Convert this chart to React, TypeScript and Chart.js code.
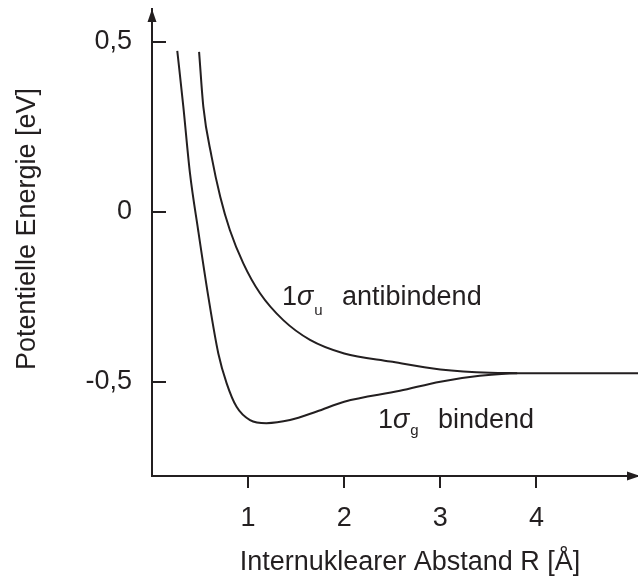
import React, { useEffect, useRef } from "react";
import { Chart, registerables } from "chart.js";

Chart.register(...registerables);

// Potential energy curves of the H2+ molecular ion
const bondingR = [0.263, 0.326, 0.395, 0.48, 0.586, 0.69, 0.777, 0.88, 1.02, 1.19, 1.436, 1.714, 2.0, 2.58, 3.0, 3.41, 3.8, 5.06];
const bondingE = [0.474, 0.31, 0.114, -0.053, -0.249, -0.416, -0.504, -0.573, -0.612, -0.621, -0.612, -0.587, -0.558, -0.526, -0.499, -0.482, -0.474, -0.474];
const antibondingR = [0.49, 0.534, 0.62, 0.71, 0.81, 0.95, 1.124, 1.366, 1.644, 2.0, 2.48, 3.0, 3.52, 3.8];
const antibondingE = [0.471, 0.31, 0.163, 0.045, -0.053, -0.151, -0.239, -0.318, -0.376, -0.416, -0.44, -0.463, -0.473, -0.474];

const xTickValues = [1, 2, 3, 4];
const yTickValues = [-0.5, 0, 0.5];

const X_MIN = 0;
const X_MAX = 5.057;
const Y_MIN = -0.7765;
const Y_MAX = 0.597;

const INK = "#231f20";
const FONT = "'Liberation Sans', Arial, Helvetica, sans-serif";
const FONT_SIZE = 27;

const xTitle = "Internuklearer Abstand R [Å]";
const yTitle = "Potentielle Energie [eV]";

// Orbital labels: position of the leading "1" in data coordinates
const orbitalLabels = [
  { r: 1.353, e: -0.2735, sub: "u", subDy: 10, word: "antibindend" },
  { r: 2.352, e: -0.635, sub: "g", subDy: 7, word: "bindend" },
];

const toPoints = (xs: number[], ys: number[]) => xs.map((x, i) => ({ x, y: ys[i] }));
const formatDe = (v: number) => String(v).replace(".", ",");

const axisDecorations = {
  id: "axisDecorations",
  afterDraw(chart: any) {
    const { ctx, chartArea, scales } = chart;
    const xs = scales.x;
    const ys = scales.y;
    ctx.save();
    ctx.strokeStyle = INK;
    ctx.fillStyle = INK;
    ctx.lineWidth = 2;

    // tick marks: inward on the energy axis, downward on the distance axis
    ys.ticks.forEach((t: any) => {
      const py = Math.round(ys.getPixelForValue(t.value));
      ctx.beginPath();
      ctx.moveTo(chartArea.left, py);
      ctx.lineTo(chartArea.left + 14, py);
      ctx.stroke();
    });
    xs.ticks.forEach((t: any) => {
      const px = Math.round(xs.getPixelForValue(t.value));
      ctx.beginPath();
      ctx.moveTo(px, chartArea.bottom);
      ctx.lineTo(px, chartArea.bottom + 12);
      ctx.stroke();
    });

    // arrow heads
    const ax = chartArea.left;
    const top = chartArea.top;
    ctx.beginPath();
    ctx.moveTo(ax, top);
    ctx.lineTo(ax - 4.5, top + 13);
    ctx.lineTo(ax + 4.5, top + 13);
    ctx.closePath();
    ctx.fill();
    const ay = chartArea.bottom;
    const right = chartArea.right + 2;
    ctx.beginPath();
    ctx.moveTo(right, ay);
    ctx.lineTo(right - 13, ay - 4.5);
    ctx.lineTo(right - 13, ay + 4.5);
    ctx.closePath();
    ctx.fill();

    // axis titles
    ctx.font = `${FONT_SIZE}px ${FONT}`;
    ctx.textAlign = "center";
    ctx.textBaseline = "alphabetic";
    ctx.fillText(xTitle, 410, 570);
    ctx.save();
    ctx.translate(35, 229);
    ctx.rotate(-Math.PI / 2);
    ctx.fillText(yTitle, 0, 0);
    ctx.restore();

    // orbital labels
    ctx.textAlign = "left";
    orbitalLabels.forEach((l) => {
      const x = xs.getPixelForValue(l.r);
      const y = ys.getPixelForValue(l.e);
      ctx.font = `${FONT_SIZE}px ${FONT}`;
      ctx.fillText("1", x, y);
      let cx = x + ctx.measureText("1").width;
      ctx.font = `italic ${FONT_SIZE}px ${FONT}`;
      ctx.fillText("σ", cx, y);
      cx += ctx.measureText("σ").width + 1;
      ctx.font = `15px ${FONT}`;
      ctx.fillText(l.sub, cx, y + l.subDy);
      ctx.font = `${FONT_SIZE}px ${FONT}`;
      ctx.fillText(l.word, x + 60, y);
    });
    ctx.restore();
  },
};

export default function App() {
  const canvasRef = useRef<HTMLCanvasElement | null>(null);

  useEffect(() => {
    if (!canvasRef.current) return;
    const chart = new Chart(canvasRef.current, {
      type: "line",
      data: {
        datasets: [
          {
            label: "1σg bindend",
            data: toPoints(bondingR, bondingE),
            borderColor: INK,
            borderWidth: 2,
            pointRadius: 0,
            cubicInterpolationMode: "monotone",
            fill: false,
          },
          {
            label: "1σu antibindend",
            data: toPoints(antibondingR, antibondingE),
            borderColor: INK,
            borderWidth: 2,
            pointRadius: 0,
            cubicInterpolationMode: "monotone",
            fill: false,
          },
        ],
      },
      options: {
        responsive: false,
        animation: false,
        devicePixelRatio: 1,
        layout: { padding: { left: 0, top: 9, right: 0, bottom: 0 } },
        plugins: { legend: { display: false }, tooltip: { enabled: false } },
        scales: {
          x: {
            type: "linear",
            min: X_MIN,
            max: X_MAX,
            afterBuildTicks: (s: any) => {
              s.ticks = xTickValues.map((v) => ({ value: v }));
            },
            afterFit: (s: any) => {
              s.height = 102;
              s.paddingLeft = 0;
              s.paddingRight = 0;
            },
            grid: { display: false, drawTicks: false },
            border: { display: true, color: INK, width: 2 },
            ticks: {
              color: INK,
              font: { family: FONT, size: FONT_SIZE },
              padding: 26,
              maxRotation: 0,
              callback: (v: any) => formatDe(Number(v)),
            },
          },
          y: {
            type: "linear",
            min: Y_MIN,
            max: Y_MAX,
            afterBuildTicks: (s: any) => {
              s.ticks = yTickValues.map((v) => ({ value: v }));
            },
            afterFit: (s: any) => {
              s.width = 152;
              s.paddingTop = 0;
              s.paddingBottom = 0;
            },
            grid: { display: false, drawTicks: false },
            border: { display: true, color: INK, width: 2 },
            ticks: {
              color: INK,
              font: { family: FONT, size: FONT_SIZE },
              padding: 20,
              callback: (v: any) => formatDe(Number(v)),
            },
          },
        },
      },
      plugins: [axisDecorations],
    });
    return () => chart.destroy();
  }, []);

  return (
    <div style={{ position: "absolute", left: 0, top: 0, width: 638, height: 578, background: "#fff" }}>
      <canvas ref={canvasRef} width={638} height={578} />
    </div>
  );
}
